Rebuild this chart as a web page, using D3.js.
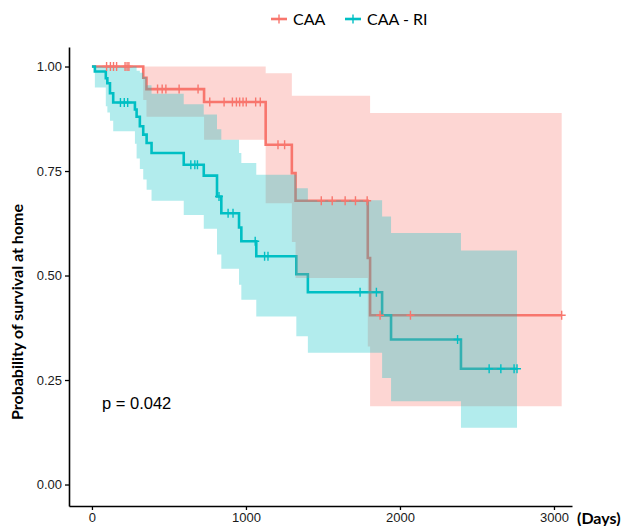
<!DOCTYPE html>
<html>
<head>
<meta charset="utf-8">
<script src="https://cdn.jsdelivr.net/npm/d3@7"></script>
<style>
  html, body { margin: 0; padding: 0; background: #ffffff; }
  svg { display: block; }
</style>
</head>
<body>
<svg id="chart" width="629" height="526"></svg>
<script>
// ---------------- data ----------------
const groups = ["CAA", "CAA - RI"];
const groupColors = ["#F8766D", "#00BFC4"];

// CAA (red)
const caaTimes  = [0, 333, 354, 728, 1128, 1298, 1322, 1791, 1806, 3050];
const caaSurv   = [1, 0.973, 0.946, 0.915, 0.813, 0.745, 0.679, 0.542, 0.405, 0.405];
const caaUpper  = [1, 1, 1, 1, 0.984, 0.93, 0.93, 0.93, 0.889, 0.889];
const caaLower  = [1, 0.92, 0.88, 0.825, 0.673, 0.58, 0.494, 0.33, 0.187, 0.187];
const caaCensor = [95, 120, 140, 160, 215, 228, 240, 426, 456, 480, 566, 689,
                   765, 858, 912, 938, 959, 981, 1002, 1063, 1093, 1208, 1251,
                   1489, 1560, 1644, 1711, 1787, 1871, 2068, 3050];

// CAA - RI (teal)
const riTimes  = [0, 19, 90, 100, 117, 138, 279, 290, 311, 333, 355, 387, 596, 726,
                  812, 840, 955, 970, 1067, 1327, 1402, 1884, 1942, 2396, 2760];
const riSurv   = [1, 0.988, 0.972, 0.960, 0.936, 0.914, 0.897, 0.880, 0.857, 0.837,
                  0.817, 0.793, 0.765, 0.739, 0.689, 0.649, 0.615, 0.582, 0.546, 0.503,
                  0.460, 0.405, 0.347, 0.277, 0.277];
const riUpper  = [1, 1, 1, 1, 1, 1, 1, 0.99, 0.985, 0.975, 0.955, 0.935, 0.91, 0.885,
                  0.85, 0.825, 0.793, 0.769, 0.741, 0.709, 0.68, 0.641, 0.602, 0.56, 0.56];
const riLower  = [1, 0.95, 0.905, 0.89, 0.87, 0.845, 0.815, 0.78, 0.755, 0.73, 0.705,
                  0.679, 0.645, 0.612, 0.55, 0.516, 0.478, 0.442, 0.402, 0.355, 0.315,
                  0.255, 0.199, 0.136, 0.136];
const riCensor = [185, 210, 232, 642, 668, 685, 825, 884, 916, 1060, 1121, 1143,
                  1741, 1847, 2374, 2579, 2655, 2741, 2760];

const xTicks = [0, 1000, 2000, 3000];
const yTicks = [0, 0.25, 0.5, 0.75, 1];
const pValueText = "p = 0.042";
const yTitle = "Probability of survival at home";
const xUnit = "(Days)";

// ---------------- build ----------------
const series = [
  {name: groups[0], color: groupColors[0], t: caaTimes, s: caaSurv, up: caaUpper, lo: caaLower, cens: caaCensor},
  {name: groups[1], color: groupColors[1], t: riTimes, s: riSurv, up: riUpper, lo: riLower, cens: riCensor}
];

const svg = d3.select("#chart");
svg.append("rect").attr("width", 629).attr("height", 526).attr("fill", "#fff");

const x = d3.scaleLinear().domain([-149, 3117]).range([69, 572]);
const y = d3.scaleLinear().domain([-0.0514, 1.0467]).range([506, 47]);

const FONT = "Lato, 'Liberation Sans', Arial, sans-serif";
const AFONT = "'Liberation Sans', Arial, sans-serif";

function pts(sr, key) { return sr.t.map((tt, i) => ({t: tt, v: sr[key][i]})); }

const line = d3.line().x(d => x(d.t)).y(d => y(d.v)).curve(d3.curveStepAfter);
const area = d3.area().x(d => x(d.t)).y0(d => y(d.lo)).y1(d => y(d.up)).curve(d3.curveStepAfter);

// lines first
const gLines = svg.append("g");
series.forEach(sr => {
  gLines.append("path").datum(pts(sr, "s"))
    .attr("d", line).attr("fill", "none")
    .attr("stroke", sr.color).attr("stroke-width", 2.6);
});
// ribbons over lines
const gRib = svg.append("g");
series.forEach(sr => {
  const data = sr.t.map((tt, i) => ({t: tt, up: sr.up[i], lo: sr.lo[i]}));
  gRib.append("path").datum(data).attr("d", area)
    .attr("fill", sr.color).attr("fill-opacity", 0.3).attr("stroke", "none");
});
// censor marks
function survAt(sr, tt) {
  const i = d3.bisectRight(sr.t, tt) - 1;
  return sr.s[Math.max(0, Math.min(i, sr.s.length - 1))];
}
const gCens = svg.append("g");
series.forEach(sr => {
  sr.cens.forEach(c => {
    const cx = x(c), cy = y(survAt(sr, c));
    gCens.append("path")
      .attr("d", `M${cx - 4},${cy}H${cx + 4}M${cx},${cy - 4.5}V${cy + 4.5}`)
      .attr("stroke", sr.color).attr("stroke-width", 1.4).attr("fill", "none");
  });
});

// axes
const xAxis = d3.axisBottom(x).tickValues(xTicks).tickFormat(d3.format("d")).tickSizeInner(4).tickSizeOuter(0).tickPadding(3);
const gx = svg.append("g").attr("transform", "translate(0,506)").call(xAxis);
const yAxis = d3.axisLeft(y).tickValues(yTicks).tickFormat(d3.format(".2f")).tickSizeInner(4).tickSizeOuter(0).tickPadding(3);
const gy = svg.append("g").attr("transform", "translate(69,0)").call(yAxis);
[gx, gy].forEach(g => {
  g.select(".domain").attr("stroke", "#000").attr("stroke-width", 1.6);
  g.selectAll(".tick line").attr("stroke", "#000").attr("stroke-width", 1.3);
  g.selectAll(".tick text").attr("fill", "#1a1a1a").style("font-family", AFONT).style("font-size", "13px");
});

// x unit label
svg.append("text").attr("x", 577).attr("y", 524)
  .style("font-family", FONT).style("font-weight", "bold").style("font-size", "16px")
  .attr("fill", "#000").text(xUnit);

// y title
svg.append("text").attr("transform", "translate(23,312) rotate(-90)")
  .attr("text-anchor", "middle")
  .style("font-family", FONT).style("font-weight", "bold").style("font-size", "16px")
  .attr("fill", "#000").text(yTitle);

// p-value
svg.append("text").attr("x", 102).attr("y", 409)
  .style("font-family", AFONT).style("font-size", "16.5px")
  .attr("fill", "#000").text(pValueText);

// legend
const legX = [271, 345];
const gLeg = svg.append("g");
series.forEach((sr, i) => {
  const lx = legX[i], ly = 19;
  gLeg.append("line").attr("x1", lx).attr("x2", lx + 16).attr("y1", ly).attr("y2", ly)
    .attr("stroke", sr.color).attr("stroke-width", 2.6);
  gLeg.append("line").attr("x1", lx + 8).attr("x2", lx + 8).attr("y1", ly - 4.5).attr("y2", ly + 4.5)
    .attr("stroke", sr.color).attr("stroke-width", 1.4);
  gLeg.append("text").attr("x", lx + 22).attr("y", ly + 6)
    .style("font-family", FONT).style("font-size", "16px").attr("fill", "#000").text(sr.name);
});
</script>
</body>
</html>
